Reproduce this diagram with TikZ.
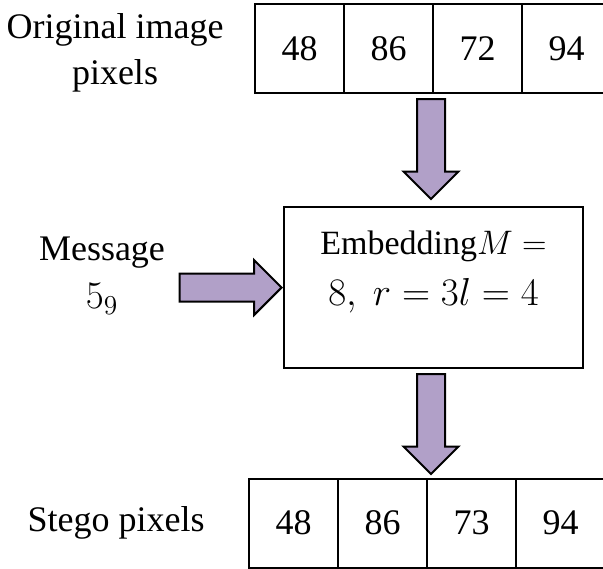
\RequirePackage{fix-cm}
\documentclass[tikz,border=0pt]{standalone}
\usepackage{fontspec}
\setmainfont{Liberation Serif}
\usetikzlibrary{positioning,shapes.arrows}
\definecolor{arrowfill}{RGB}{177,160,200}

\begin{document}
\begin{tikzpicture}[
x=0.5pt, y=-0.5pt,
every node/.style={font=\fontsize{18}{23}\selectfont},
cell/.style={rectangle, draw=black, line width=1pt, minimum size=44.5pt, inner sep=0pt, outer sep=0pt},
embedbox/.style={rectangle, draw=black, line width=1pt, minimum width=149.5pt, minimum height=80.5pt, inner sep=0pt, outer sep=0pt},
blockarrow/.style={single arrow, draw=black, line width=1pt, fill=arrowfill, minimum width=26.5pt, single arrow head extend=6.75pt, inner xsep=0pt, inner ysep=6.5pt, minimum height=50pt},
caption/.style={align=center, inner sep=0pt},
]
\clip (0,0) rectangle (603,568);
% original pixels
\node[cell] (o1) at (299.5,48.5) {48};
\node[cell] [right=0pt of o1] (o2) {86};
\node[cell] [right=0pt of o2] (o3) {72};
\node[cell] [right=0pt of o3] (o4) {94};
\node[caption] (orig) at (115,53) {Original image\\pixels};

% embedding step
\node[embedbox] (embed) at (433.5,287.5) {};
\node[caption, font=\fontsize{17}{25.5}\selectfont] (embedtext) at ([yshift=7.75pt]embed.center) {Embedding$M =$\\{\fontsize{19.5}{25.5}\selectfont$8,\ r = 3l = 4$}};
\node[caption, font=\fontsize{18}{24}\selectfont] (msg) at (102,276) {Message\\{\fontsize{19.5}{24}\selectfont$5_9$}};

% stego pixels
\node[cell] (s1) at (293.5,523) {48};
\node[cell] [right=0pt of s1] (s2) {86};
\node[cell] [right=0pt of s2] (s3) {73};
\node[cell] [right=0pt of s3] (s4) {94};
\node[caption] (stego) at (116,523) {Stego pixels};

% arrows
\node[blockarrow, rotate=-90, anchor=tail] (downa) at ([xshift=-1pt, yshift=-2.5pt]o2.south east) {};
\node[blockarrow, rotate=-90, anchor=tail] (downb) at ([xshift=-1.25pt, yshift=-2.5pt]embed.south) {};
\node[blockarrow, minimum height=51pt, anchor=tip] (inarrow) at ([xshift=-0.5pt]embed.west) {};
\end{tikzpicture}
\end{document}
